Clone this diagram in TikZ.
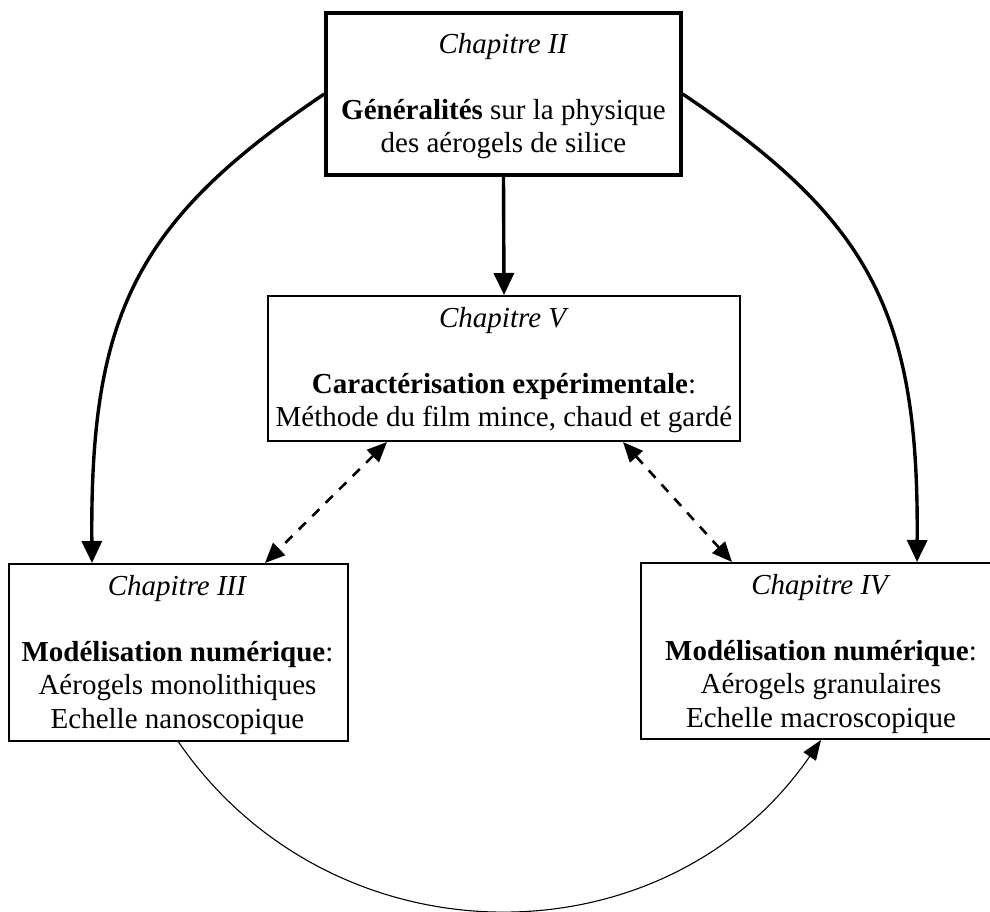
\documentclass[tikz,border=0pt]{standalone}
\usepackage{fontspec}
\setmainfont{Liberation Serif}
\usetikzlibrary{arrows.meta}
\begin{document}
\begin{tikzpicture}[x=1pt,y=-1pt,
  chbox/.style={draw, line width=2pt, inner sep=0pt},
  txt/.style={anchor=base, inner sep=0pt, font=\fontsize{29}{33.3}\selectfont},
  bigarrow/.style={line width=3.4pt, -{Triangle[length=22pt,width=20pt]}},
  dasharrow/.style={line width=2.6pt, dash pattern=on 10pt off 9pt,
    {Triangle[length=20pt,width=17pt]}-{Triangle[length=20pt,width=17pt]}},
  thinarrow/.style={line width=1.1pt, -{Triangle[length=20pt,width=15pt]}}]
\useasboundingbox (0,0) rectangle (990,911);
\fill[white] (0,0) rectangle (990,911);
% boxes
\node[chbox, line width=3.4pt, minimum width=355pt, minimum height=162pt] (II) at (503.5,94) {};
\node[chbox, minimum width=472pt, minimum height=145pt] (V) at (504,368.5) {};
\node[chbox, minimum width=339pt, minimum height=177pt] (III) at (178.5,652.5) {};
\node[chbox, minimum width=360pt, minimum height=176pt] (IV) at (821,651) {};
% texts
\node[txt] (IIt) at (503.5,53) {\tabcolsep=0pt\begin{tabular}[t]{c}\textit{Chapitre II}\\ \\ \textbf{Généralités} sur la physique\\ des aérogels de silice\end{tabular}};
\node[txt] (Vt) at (504,327) {\tabcolsep=0pt\begin{tabular}[t]{c}\textit{Chapitre V}\\ \\ \textbf{Caractérisation expérimentale}:\\ Méthode du film mince, chaud et gardé\end{tabular}};
\node[txt] (IIIt) at (177.5,595) {\tabcolsep=0pt\begin{tabular}[t]{c}\textit{Chapitre III}\\ \\ \textbf{Modélisation numérique}:\\ Aérogels monolithiques\\ Echelle nanoscopique\end{tabular}};
\node[txt] (IVt) at (821,594) {\tabcolsep=0pt\begin{tabular}[t]{c}\textit{Chapitre IV}\\ \\ \textbf{Modélisation numérique}:\\ Aérogels granulaires\\ Echelle macroscopique\end{tabular}};
% connectors
\draw[bigarrow] (II.south) -- (V.north);
\draw[bigarrow] (II.west) .. controls +(-189,127) and +(-2,-248) .. ([xshift=-86.5pt]III.north);
\draw[bigarrow] (II.east) .. controls +(189,127) and +(2,-248) .. ([xshift=96pt]IV.north);
\draw[dasharrow] ([xshift=-117pt]V.south) -- ([xshift=86.5pt]III.north);
\draw[dasharrow] ([xshift=119pt]V.south) -- ([xshift=-89pt]IV.north);
\draw[thinarrow] (III.south) .. controls +(155.5,225.3) and +(-155.2,225.5) .. (IV.south);
\end{tikzpicture}
\end{document}
